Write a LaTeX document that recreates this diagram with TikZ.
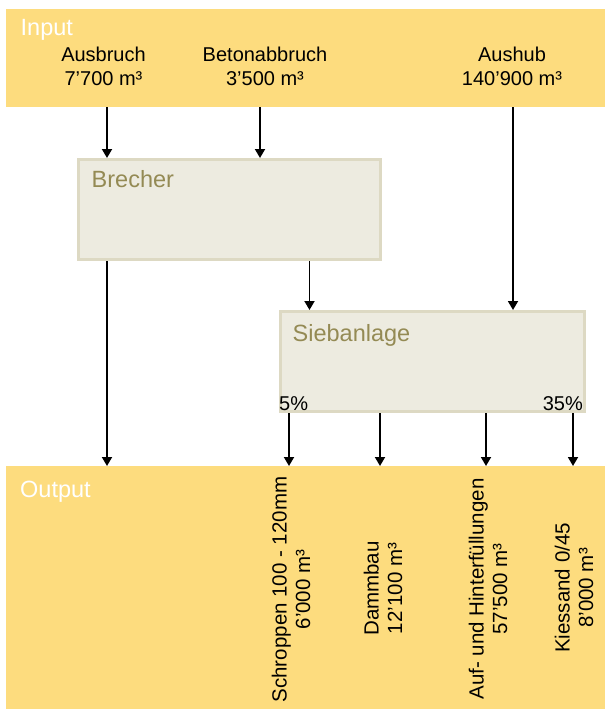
\documentclass[tikz,border=0pt]{standalone}
\usepackage{fontspec}
\setmainfont{Liberation Sans}
\usetikzlibrary{arrows.meta}
\definecolor{bandcol}{HTML}{FDDC7E}
\definecolor{boxfill}{HTML}{EDEBE0}
\definecolor{boxline}{HTML}{DDD9C3}
\definecolor{titlecol}{HTML}{948A54}
\tikzset{
  band/.style={fill=bandcol, draw=none, inner sep=0pt, outer sep=0pt, anchor=north west},
  procbox/.style={fill=boxfill, draw=boxline, line width=3pt, inner sep=0pt, anchor=center},
  boxtitle/.style={text=titlecol, font=\fontsize{23.5}{27}\selectfont, inner sep=0pt, anchor=base west},
  bandtitle/.style={text=white, font=\fontsize{23.5}{27}\selectfont, inner sep=0pt, anchor=base west},
  lbl/.style={font=\fontsize{20}{23.5}\selectfont, inner sep=0pt, anchor=base},
  outlbl/.style={font=\fontsize{20.5}{23.5}\selectfont, inner sep=0pt, align=center, rotate=90, anchor=center},
  pct/.style={font=\fontsize{20}{23.5}\selectfont, inner sep=0pt},
  arr/.style={line width=1.8pt, -{Triangle[width=10pt,length=9pt]}}
}
\begin{document}
\begin{tikzpicture}[x=1pt,y=-1pt]
\useasboundingbox (0,0) rectangle (605,709);
% bands
\node[band, minimum width=599pt, minimum height=98pt] (inband) at (6,9) {};
\node[band, minimum width=599pt, minimum height=243pt] (outband) at (6,466) {};
\node[bandtitle] (intitle) at (20.5,36) {Input};
\node[bandtitle] (outtitle) at (20,497) {Output};
% input labels
\node[lbl] (ausbruch) at (103.5,61.5) {Ausbruch};
\node[lbl] (ausbruchv) at (103.5,85) {7'700 m³};
\node[lbl] (beton) at (265,61.5) {Betonabbruch};
\node[lbl] (betonv) at (265,85) {3'500 m³};
\node[lbl] (aushub) at (512,61.5) {Aushub};
\node[lbl] (aushubv) at (512,85) {140'900 m³};
% process boxes
\node[procbox, minimum width=302pt, minimum height=100pt] (brecher) at (229.5,209.5) {};
\node[boxtitle] (brechert) at (91.5,187.5) {Brecher};
\node[procbox, minimum width=304pt, minimum height=100pt] (sieb) at (432.5,361.5) {};
\node[boxtitle] (siebt) at (292.5,341) {Siebanlage};
\node[pct, anchor=base west] (p5) at (279,410) {5\%};
\node[pct, anchor=base east] (p35) at (583,410) {35\%};
% input arrows
\draw[arr] (inband.south -| 107,0) -- (brecher.north -| 107,0);
\draw[arr] (inband.south -| 260,0) -- (brecher.north -| 260,0);
\draw[arr] (inband.south -| 513,0) -- (sieb.north -| 513,0);
% brecher arrows
\draw[arr] (brecher.south -| 107,0) -- (outband.north -| 107,0);
\draw[arr] (brecher.south -| 309.5,0) -- (sieb.north -| 309.5,0);
% sieb arrows
\draw[arr] (sieb.south -| 289,0) -- (outband.north -| 289,0);
\draw[arr] (sieb.south -| 380,0) -- (outband.north -| 380,0);
\draw[arr] (sieb.south -| 486,0) -- (outband.north -| 486,0);
\draw[arr] (sieb.south -| 573,0) -- (outband.north -| 573,0);
% output labels
\node[outlbl] (schroppen) at (291,589.5) {Schroppen 100 - 120mm\\6'000 m³};
\node[outlbl] (dammbau) at (383,588.5) {Dammbau\\12'100 m³};
\node[outlbl] (auf) at (488,589) {Auf- und Hinterfüllungen\\57'500 m³};
\node[outlbl] (kies) at (574,588) {Kiessand 0/45\\8'000 m³};
\end{tikzpicture}
\end{document}
